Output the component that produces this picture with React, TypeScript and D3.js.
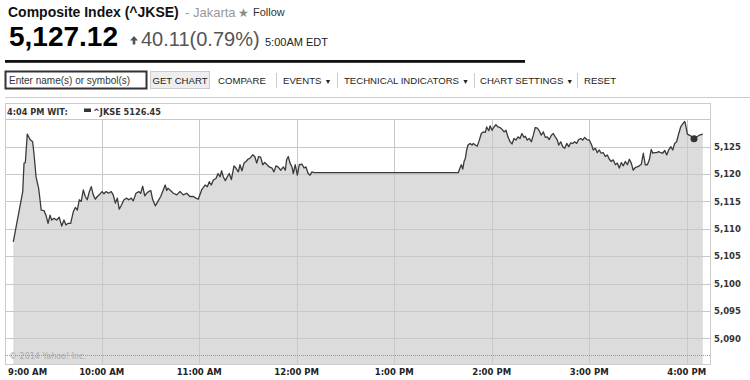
import React from "react";
import * as d3 from "d3";

// minutes after 9:00 AM (WIT) and index values
const times = [
  5.6, 11.4, 12.2, 13.0, 14.2, 15.9, 17.5, 18.3, 19.6, 21.2, 22.8, 24.5, 25.7, 27.0, 28.2, 29.2, 30.6, 32.3, 33.9, 35.4,
  36.8, 38.0, 39.4, 40.9, 42.5, 43.8, 45.0, 46.2, 47.4, 48.7, 49.9, 51.1, 52.4, 53.6, 54.8, 56.1, 57.3, 58.5, 60.2, 61.4,
  62.6, 64.3, 65.9, 67.1, 68.4, 69.6, 70.8, 72.1, 73.7, 75.4, 76.6, 78.2, 79.4, 81.1, 82.8, 84.0, 85.2, 86.5, 87.7, 88.9,
  90.2, 91.4, 93.0, 94.6, 96.3, 97.9, 99.1, 100.0, 100.8, 102.0, 104.1, 106.2, 108.2, 110.2, 112.3, 114.3, 116.4, 118.0, 119.4, 121.5,
  123.6, 125.0, 126.2, 127.4, 128.7, 130.3, 131.6, 132.8, 133.8, 134.8, 136.1, 137.3, 138.5, 139.8, 141.4, 142.6, 144.1, 145.1, 146.3, 147.6,
  148.8, 150.0, 151.3, 152.9, 154.2, 155.4, 156.6, 157.8, 159.1, 160.3, 161.5, 163.1, 164.8, 166.0, 167.3, 168.5, 170.2, 171.8, 173.0, 173.8,
  174.8, 175.9, 177.1, 177.9, 179.1, 180.4, 181.6, 183.3, 184.5, 185.7, 187.0, 188.2, 189.4, 190.6, 279.4, 280.5, 281.3, 282.2, 283.0, 283.8,
  284.6, 285.4, 286.7, 287.9, 288.7, 289.9, 291.1, 292.4, 293.6, 294.8, 296.1, 296.9, 298.2, 299.0, 300.2, 301.4, 302.6, 303.9, 305.1, 306.3,
  307.6, 308.8, 310.0, 311.3, 312.5, 313.7, 314.9, 316.2, 317.4, 318.6, 319.9, 320.7, 321.9, 323.1, 324.4, 325.6, 326.8, 328.1, 329.3, 330.5,
  331.8, 333.0, 334.2, 335.4, 336.7, 337.9, 339.1, 340.4, 341.2, 342.5, 343.7, 344.9, 346.2, 347.4, 348.6, 349.8, 351.1, 352.3, 353.5, 354.8,
  356.0, 357.2, 358.5, 360.1, 361.5, 362.5, 363.8, 365.0, 366.2, 367.4, 368.7, 369.9, 371.1, 372.4, 373.6, 374.8, 376.1, 377.3, 378.5, 379.8,
  381.0, 382.2, 383.5, 384.7, 385.9, 387.1, 388.4, 389.6, 390.8, 392.1, 393.3, 394.5, 395.8, 397.0, 398.2, 399.1, 400.3, 401.5, 402.8, 404.0,
  405.2, 406.5, 407.7, 408.9, 410.2, 411.4, 412.6, 413.8, 415.1, 416.3, 417.9, 418.8, 419.6, 420.4, 421.6, 422.8, 424.5, 426.2, 427.8, 429.9,
];
const values = [
  5107.6, 5116.8, 5122.0, 5122.1, 5127.3, 5126.3, 5125.9, 5123.8, 5119.5, 5117.4, 5113.4, 5113.3, 5112.5, 5111.0, 5112.5, 5111.6, 5111.9, 5111.6, 5112.1, 5110.5,
  5111.6, 5110.7, 5111.0, 5111.0, 5113.1, 5113.9, 5113.4, 5115.3, 5115.0, 5117.1, 5115.9, 5115.3, 5116.8, 5117.7, 5116.2, 5115.4, 5115.9, 5116.2, 5116.8, 5116.4,
  5116.8, 5116.5, 5116.8, 5116.2, 5114.7, 5115.6, 5113.6, 5114.3, 5115.3, 5115.6, 5115.3, 5115.6, 5115.1, 5116.5, 5116.8, 5116.5, 5117.8, 5116.0, 5116.5, 5116.8,
  5117.0, 5115.3, 5114.2, 5115.0, 5115.9, 5117.1, 5118.0, 5117.0, 5117.4, 5117.1, 5116.5, 5116.2, 5116.8, 5116.2, 5116.5, 5115.9, 5115.9, 5115.6, 5115.4, 5117.1,
  5118.0, 5117.7, 5118.6, 5118.0, 5118.9, 5119.2, 5120.1, 5119.5, 5120.6, 5119.5, 5118.8, 5119.5, 5120.1, 5119.0, 5121.5, 5121.1, 5120.4, 5121.7, 5120.6, 5122.0,
  5122.3, 5122.7, 5122.9, 5123.5, 5123.2, 5122.0, 5123.2, 5123.1, 5121.7, 5122.1, 5121.8, 5121.3, 5121.1, 5120.4, 5121.5, 5121.3, 5120.7, 5121.3, 5120.7, 5122.6,
  5123.2, 5122.0, 5121.3, 5120.1, 5121.7, 5119.8, 5121.7, 5121.8, 5121.1, 5121.3, 5120.1, 5119.8, 5120.4, 5120.25, 5120.25, 5121.1, 5121.7, 5120.9, 5122.3, 5122.9,
  5124.4, 5125.3, 5125.6, 5125.3, 5125.6, 5125.3, 5125.1, 5126.2, 5127.4, 5127.7, 5127.6, 5128.6, 5127.9, 5128.8, 5128.0, 5128.6, 5129.0, 5128.6, 5128.5, 5128.2,
  5127.7, 5128.0, 5126.8, 5125.9, 5125.5, 5126.5, 5126.2, 5126.8, 5126.5, 5127.4, 5126.7, 5126.9, 5126.2, 5126.5, 5125.9, 5127.1, 5128.5, 5128.4, 5127.9, 5127.1,
  5127.7, 5126.7, 5126.8, 5126.3, 5127.1, 5127.4, 5126.8, 5126.2, 5125.3, 5125.9, 5125.0, 5124.7, 5125.6, 5125.0, 5125.7, 5125.6, 5125.9, 5125.6, 5126.3, 5126.5,
  5126.2, 5126.7, 5126.3, 5126.2, 5125.3, 5124.4, 5124.7, 5123.9, 5124.4, 5123.8, 5123.9, 5123.2, 5123.5, 5122.7, 5122.3, 5122.6, 5121.7, 5122.0, 5121.1, 5122.1,
  5121.5, 5122.3, 5121.7, 5122.7, 5122.0, 5120.7, 5121.2, 5121.3, 5121.5, 5121.8, 5123.8, 5121.7, 5121.7, 5122.6, 5124.5, 5123.8, 5123.9, 5123.9, 5124.1, 5123.9,
  5123.8, 5124.3, 5123.5, 5124.4, 5125.0, 5124.4, 5125.6, 5125.9, 5127.4, 5128.6, 5129.3, 5129.6, 5128.6, 5127.3, 5127.1, 5126.9, 5126.45, 5126.8, 5127.1, 5127.3,
];

const xTickMinutes = [0, 60, 120, 180, 240, 300, 360, 420];
const xTickLabels = ["9:00 AM", "10:00 AM", "11:00 AM", "12:00 PM", "1:00 PM", "2:00 PM", "3:00 PM", "4:00 PM"];
const yGridValues = [5090, 5095, 5100, 5105, 5110, 5115, 5120, 5125, 5130];
const yTickLabels = ["5,090", "5,095", "5,100", "5,105", "5,110", "5,115", "5,120", "5,125"];

const previousClose = 5087.01;
const markerIndex = times.indexOf(424.5);
const legendTime = "4:04 PM WIT:";
const legendLabel = "^JKSE 5126.45";

const toolbarItems = ["COMPARE", "EVENTS", "TECHNICAL INDICATORS", "CHART SETTINGS", "RESET"];
const toolbarHasMenu = [false, true, true, true, false];
const toolbarX = [218, 283, 344, 480, 584];
const toolbarSep = [276, 337, 474, 577];

export default function App() {
  const plotLeft = 5;
  const plotRight = 710;
  const plotTop = 103;
  const gridTop = 119.3;
  const plotBottom = 364;

  const x = d3.scaleLinear().domain([0, 420]).range([4.2, 686.7]);
  const y = d3.scaleLinear().domain([5090, 5130]).range([338.3, 119.3]);

  const data = times.map((t, i) => ({ t, v: values[i] }));
  const area = d3
    .area<{ t: number; v: number }>()
    .x((d) => x(d.t))
    .y0(plotBottom)
    .y1((d) => y(d.v));
  const line = d3
    .line<{ t: number; v: number }>()
    .x((d) => x(d.t))
    .y((d) => y(d.v));

  const axisFont = "DejaVu Sans, Verdana, sans-serif";
  const arial = "Liberation Sans, Arial, sans-serif";

  return (
    <div style={{ position: "absolute", left: 0, top: 0 }}>
      <svg width={750} height={380} style={{ display: "block", background: "#fff" }}>
        {/* Header */}
        <text x={8} y={17} fontFamily={arial} fontWeight="bold" fontSize={14} fill="#111">
          Composite Index (^JKSE)
        </text>
        <text x={185} y={17} fontFamily={arial} fontSize={13} fill="#999">
          - Jakarta
        </text>
        <text x={238} y={17} fontFamily={axisFont} fontSize={12} fill="#888">
          ★
        </text>
        <text x={253} y={16} fontFamily={arial} fontSize={11} fill="#333">
          Follow
        </text>
        <text x={9} y={46} fontFamily={arial} fontWeight="bold" fontSize={28} fill="#000">
          5,127.12
        </text>
        <path d="M134,36 L138,40.5 L135.3,40.5 L135.3,44.5 L132.7,44.5 L132.7,40.5 L130,40.5 Z" fill="#555" />
        <text x={141} y={46} fontFamily={arial} fontSize={20} fill="#555">
          40.11(0.79%)
        </text>
        <text x={265} y={46} fontFamily={arial} fontSize={11} fill="#222">
          5:00AM EDT
        </text>
        <rect x={5} y={60} width={520} height={2.8} fill="#111" />

        {/* Toolbar */}
        <rect x={5.5} y={71.5} width={141} height={17} fill="#fff" stroke="#333" strokeWidth={2} />
        <text x={9} y={84} fontFamily={arial} fontSize={10} fill="#333">
          Enter name(s) or symbol(s)
        </text>
        <rect x={150.5} y={71.5} width={59} height={17} fill="#eee" stroke="#ccc" />
        <text x={180} y={84} textAnchor="middle" fontFamily={arial} fontSize={9.6} fill="#222">
          GET CHART
        </text>
        {toolbarItems.map((s, i) => (
          <text key={s} x={toolbarX[i]} y={84} fontFamily={arial} fontSize={9.6} fill="#222">
            {s}
            {toolbarHasMenu[i] ? (
              <tspan fontSize={7} dx={3} dy={-0.5}>
                ▼
              </tspan>
            ) : null}
          </text>
        ))}
        {toolbarSep.map((sx) => (
          <line key={sx} x1={sx + 0.5} x2={sx + 0.5} y1={73} y2={88} stroke="#ccc" />
        ))}
        <line x1={5} x2={750} y1={97.5} y2={97.5} stroke="#ccc" />

        {/* Plot frame */}
        <rect x={plotLeft + 0.5} y={plotTop + 0.5} width={plotRight - plotLeft} height={plotBottom - plotTop} fill="#fff" stroke="#ccc" />

        {/* Area */}
        <path d={area(data) || ""} fill="#dcdcdc" />

        {/* Grid */}
        {yGridValues.map((v) => (
          <line key={v} x1={plotLeft} x2={plotRight} y1={Math.round(y(v)) + 0.5} y2={Math.round(y(v)) + 0.5} stroke="#c8c8c8" />
        ))}
        {xTickMinutes.slice(1).map((m) => (
          <line key={m} x1={Math.round(x(m)) + 0.5} x2={Math.round(x(m)) + 0.5} y1={gridTop} y2={plotBottom} stroke="#c8c8c8" />
        ))}

        {/* previous close */}
        <line x1={plotLeft} x2={plotRight} y1={Math.round(y(previousClose)) + 0.5} y2={Math.round(y(previousClose)) + 0.5} stroke="#999" strokeDasharray="1,1" />

        <text x={9} y={359} fontFamily={axisFont} fontSize={8} fill="#aaa">
          © 2014 Yahoo! Inc.
        </text>

        {/* Line */}
        <path d={line(data) || ""} fill="none" stroke="#3a3a3a" strokeWidth={1.3} strokeLinejoin="round" />
        <circle cx={x(times[markerIndex])} cy={y(values[markerIndex])} r={3.5} fill="#333" />

        {/* Legend */}
        <text x={7} y={114.5} fontFamily={axisFont} fontWeight="bold" fontSize={8.2} fill="#333">
          {legendTime}
        </text>
        <rect x={84} y={108.5} width={7} height={3.5} fill="#333" />
        <text x={93} y={114.5} fontFamily={axisFont} fontWeight="bold" fontSize={8.2} fill="#333">
          {legendLabel}
        </text>

        {/* Y axis labels */}
        {yTickLabels.map((s, i) => (
          <text key={s} x={714} y={y(yGridValues[i]) + 3.2} fontFamily={axisFont} fontWeight="bold" fontSize={8.5} fill="#333">
            {s}
          </text>
        ))}

        {/* X axis labels */}
        {xTickLabels.map((s, i) => (
          <text
            key={s}
            x={i === 0 ? 8 : x(xTickMinutes[i])}
            y={374.5}
            textAnchor={i === 0 ? "start" : "middle"}
            fontFamily={axisFont}
            fontWeight="bold"
            fontSize={8.5}
            fill="#222"
          >
            {s}
          </text>
        ))}
      </svg>
    </div>
  );
}
